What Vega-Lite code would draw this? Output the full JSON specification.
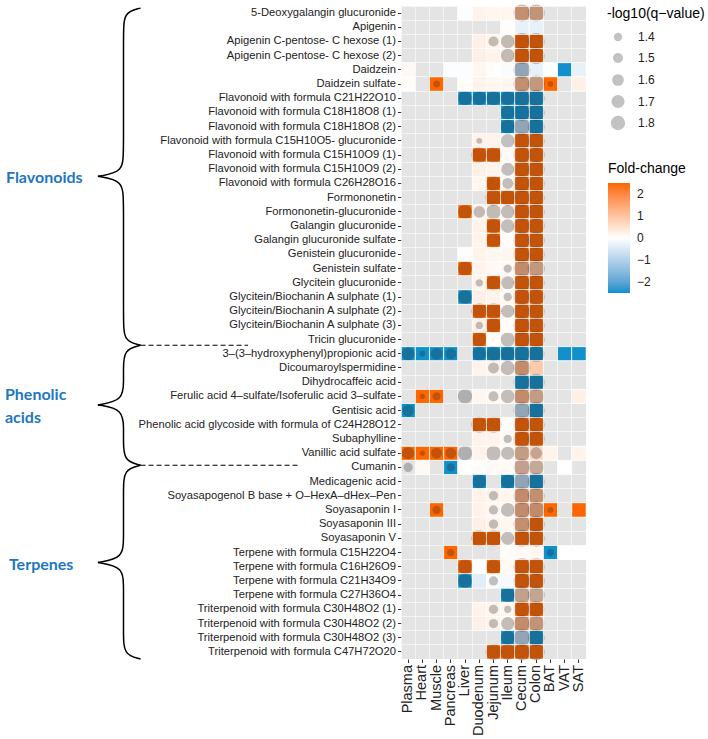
{
  "$schema": "https://vega.github.io/schema/vega-lite/v6.json",
  "width": 185,
  "height": 653,
  "padding": {"left": 4, "top": 4, "right": 5, "bottom": 5},
  "config": {
    "view": {"stroke": null, "fill": "#E4E4E4"},
    "font": "Liberation Sans",
    "axis": {"labelFont": "Liberation Sans"},
    "legend": {"titleFont": "Liberation Sans", "labelFont": "Liberation Sans", "titleFontWeight": "normal", "titleColor": "#000", "labelColor": "#222"}
  },
  "datasets": {
    "names": [
      {"r": 1, "n": "5-Deoxygalangin glucuronide"},
      {"r": 2, "n": "Apigenin"},
      {"r": 3, "n": "Apigenin C-pentose- C hexose (1)"},
      {"r": 4, "n": "Apigenin C-pentose- C hexose (2)"},
      {"r": 5, "n": "Daidzein"},
      {"r": 6, "n": "Daidzein sulfate"},
      {"r": 7, "n": "Flavonoid with formula C21H22O10"},
      {"r": 8, "n": "Flavonoid with formula C18H18O8 (1)"},
      {"r": 9, "n": "Flavonoid with formula C18H18O8 (2)"},
      {"r": 10, "n": "Flavonoid with formula C15H10O5- glucuronide"},
      {"r": 11, "n": "Flavonoid with formula C15H10O9 (1)"},
      {"r": 12, "n": "Flavonoid with formula C15H10O9 (2)"},
      {"r": 13, "n": "Flavonoid with formula C26H28O16"},
      {"r": 14, "n": "Formononetin"},
      {"r": 15, "n": "Formononetin-glucuronide"},
      {"r": 16, "n": "Galangin glucuronide"},
      {"r": 17, "n": "Galangin glucuronide sulfate"},
      {"r": 18, "n": "Genistein glucuronide"},
      {"r": 19, "n": "Genistein sulfate"},
      {"r": 20, "n": "Glycitein glucuronide"},
      {"r": 21, "n": "Glycitein/Biochanin A sulphate (1)"},
      {"r": 22, "n": "Glycitein/Biochanin A sulphate (2)"},
      {"r": 23, "n": "Glycitein/Biochanin A sulphate (3)"},
      {"r": 24, "n": "Tricin glucuronide"},
      {"r": 25, "n": "3–(3–hydroxyphenyl)propionic acid"},
      {"r": 26, "n": "Dicoumaroylspermidine"},
      {"r": 27, "n": "Dihydrocaffeic acid"},
      {"r": 28, "n": "Ferulic acid 4–sulfate/Isoferulic acid 3–sulfate"},
      {"r": 29, "n": "Gentisic acid"},
      {"r": 30, "n": "Phenolic acid glycoside with formula of C24H28O12"},
      {"r": 31, "n": "Subaphylline"},
      {"r": 32, "n": "Vanillic acid sulfate"},
      {"r": 33, "n": "Cumanin"},
      {"r": 34, "n": "Medicagenic acid"},
      {"r": 35, "n": "Soyasapogenol B base + O–HexA–dHex–Pen"},
      {"r": 36, "n": "Soyasaponin I"},
      {"r": 37, "n": "Soyasaponin III"},
      {"r": 38, "n": "Soyasaponin V"},
      {"r": 39, "n": "Terpene with formula C15H22O4"},
      {"r": 40, "n": "Terpene with formula C16H26O9"},
      {"r": 41, "n": "Terpene with formula C21H34O9"},
      {"r": 42, "n": "Terpene with formula C27H36O4"},
      {"r": 43, "n": "Triterpenoid with formula C30H48O2 (1)"},
      {"r": 44, "n": "Triterpenoid with formula C30H48O2 (2)"},
      {"r": 45, "n": "Triterpenoid with formula C30H48O2 (3)"},
      {"r": 46, "n": "Triterpenoid with formula C47H72O20"}
    ],
    "cells": [
      {"r":1,"t":"Liver","f":-0.05},{"r":1,"t":"Duodenum","f":0.2},{"r":1,"t":"Jejunum","f":0.15},{"r":1,"t":"Ileum","f":0.15},{"r":1,"t":"Cecum","f":1.2,"q":2.05},{"r":1,"t":"Colon","f":1.1,"q":2.05},
      {"r":2,"t":"Ileum","f":0.03},{"r":2,"t":"Cecum","f":-0.3},{"r":2,"t":"Colon","f":-0.3},
      {"r":3,"t":"Duodenum","f":0.25},{"r":3,"t":"Jejunum","f":0.2,"q":1.5},{"r":3,"t":"Ileum","f":0.2,"q":1.75},{"r":3,"t":"Cecum","f":2.5,"q":2.05},{"r":3,"t":"Colon","f":2.5,"q":2.05},
      {"r":4,"t":"Duodenum","f":0.25},{"r":4,"t":"Jejunum","f":0.2},{"r":4,"t":"Ileum","f":0.2,"q":1.75},{"r":4,"t":"Cecum","f":2.5,"q":2.05},{"r":4,"t":"Colon","f":2.5,"q":2.05},
      {"r":5,"t":"Plasma","f":0.1},{"r":5,"t":"Pancreas","f":-0.05},{"r":5,"t":"Liver","f":-0.05},{"r":5,"t":"Duodenum","f":0.15},{"r":5,"t":"Jejunum","f":0.02},{"r":5,"t":"Ileum","f":-0.08},{"r":5,"t":"Cecum","f":-0.9,"q":2.05},{"r":5,"t":"Colon","f":-0.3},{"r":5,"t":"BAT","f":0},{"r":5,"t":"VAT","f":-2.5},{"r":5,"t":"SAT","f":-0.3},
      {"r":6,"t":"Plasma","f":0.05},{"r":6,"t":"Muscle","f":2.5,"q":1.34},{"r":6,"t":"Liver","f":0.05},{"r":6,"t":"Duodenum","f":0.2},{"r":6,"t":"Jejunum","f":0.15},{"r":6,"t":"Ileum","f":0.15},{"r":6,"t":"Cecum","f":1.2,"q":2.05},{"r":6,"t":"Colon","f":1.0,"q":2.05},{"r":6,"t":"BAT","f":2.5,"q":1.29},{"r":6,"t":"SAT","f":0.25},
      {"r":7,"t":"Liver","f":-2.5,"q":1.78},{"r":7,"t":"Duodenum","f":-2.5,"q":1.78},{"r":7,"t":"Jejunum","f":-2.5,"q":1.8},{"r":7,"t":"Ileum","f":-2.5,"q":1.8},{"r":7,"t":"Cecum","f":-2.5,"q":2.05},{"r":7,"t":"Colon","f":-2.5,"q":2.05},
      {"r":8,"t":"Ileum","f":-2.5,"q":1.8},{"r":8,"t":"Cecum","f":-2.5,"q":2.05},{"r":8,"t":"Colon","f":-2.5,"q":2.05},
      {"r":9,"t":"Ileum","f":-2.5,"q":1.8},{"r":9,"t":"Cecum","f":-0.9,"q":2.05},{"r":9,"t":"Colon","f":-2.5,"q":2.05},
      {"r":10,"t":"Duodenum","f":0.2,"q":1.3},{"r":10,"t":"Jejunum","f":0.2},{"r":10,"t":"Ileum","f":0.05,"q":1.77},{"r":10,"t":"Cecum","f":2.5,"q":2.05},{"r":10,"t":"Colon","f":2.5,"q":2.05},
      {"r":11,"t":"Duodenum","f":2.5,"q":1.95},{"r":11,"t":"Jejunum","f":2.5,"q":1.95},{"r":11,"t":"Ileum","f":0.08},{"r":11,"t":"Cecum","f":2.5,"q":2.05},{"r":11,"t":"Colon","f":2.5,"q":2.05},
      {"r":12,"t":"Duodenum","f":0.25},{"r":12,"t":"Jejunum","f":0.2},{"r":12,"t":"Ileum","f":0.1,"q":1.7},{"r":12,"t":"Cecum","f":2.5,"q":2.05},{"r":12,"t":"Colon","f":2.5,"q":2.05},
      {"r":13,"t":"Duodenum","f":0.15},{"r":13,"t":"Jejunum","f":2.5,"q":1.85},{"r":13,"t":"Ileum","f":0.1,"q":1.55},{"r":13,"t":"Cecum","f":2.5,"q":2.05},{"r":13,"t":"Colon","f":2.5,"q":2.05},
      {"r":14,"t":"Jejunum","f":2.5,"q":1.95},{"r":14,"t":"Ileum","f":2.5,"q":1.95},{"r":14,"t":"Cecum","f":2.5,"q":2.05},{"r":14,"t":"Colon","f":2.5,"q":2.05},
      {"r":15,"t":"Liver","f":2.5,"q":1.8},{"r":15,"t":"Duodenum","f":0.2,"q":1.6},{"r":15,"t":"Jejunum","f":0.2,"q":1.85},{"r":15,"t":"Ileum","f":0.15,"q":1.75},{"r":15,"t":"Cecum","f":2.5,"q":2.05},{"r":15,"t":"Colon","f":2.5,"q":2.05},
      {"r":16,"t":"Duodenum","f":0.2},{"r":16,"t":"Jejunum","f":2.5,"q":1.85},{"r":16,"t":"Ileum","f":0.1,"q":1.75},{"r":16,"t":"Cecum","f":2.5,"q":2.05},{"r":16,"t":"Colon","f":2.5,"q":2.05},
      {"r":17,"t":"Duodenum","f":0.2},{"r":17,"t":"Jejunum","f":2.5,"q":1.85},{"r":17,"t":"Ileum","f":0.05},{"r":17,"t":"Cecum","f":2.5,"q":2.05},{"r":17,"t":"Colon","f":2.5,"q":2.05},
      {"r":18,"t":"Liver","f":0.05},{"r":18,"t":"Duodenum","f":0.2},{"r":18,"t":"Jejunum","f":0.15},{"r":18,"t":"Ileum","f":0.15},{"r":18,"t":"Cecum","f":2.5,"q":2.05},{"r":18,"t":"Colon","f":2.5,"q":2.05},
      {"r":19,"t":"Liver","f":2.5,"q":1.8},{"r":19,"t":"Duodenum","f":0.2},{"r":19,"t":"Jejunum","f":0.12},{"r":19,"t":"Ileum","f":0.1,"q":1.4},{"r":19,"t":"Cecum","f":1.3,"q":2.05},{"r":19,"t":"Colon","f":1.0,"q":2.08},
      {"r":20,"t":"Duodenum","f":0.2,"q":1.35},{"r":20,"t":"Jejunum","f":2.5,"q":1.85},{"r":20,"t":"Ileum","f":0.15,"q":1.7},{"r":20,"t":"Cecum","f":2.5,"q":2.05},{"r":20,"t":"Colon","f":2.5,"q":2.05},
      {"r":21,"t":"Liver","f":-2.5,"q":1.78},{"r":21,"t":"Duodenum","f":0.25},{"r":21,"t":"Jejunum","f":0.2},{"r":21,"t":"Ileum","f":0.12,"q":1.4},{"r":21,"t":"Cecum","f":2.5,"q":2.05},{"r":21,"t":"Colon","f":2.5,"q":2.05},
      {"r":22,"t":"Duodenum","f":2.5,"q":1.95},{"r":22,"t":"Jejunum","f":2.5,"q":1.95},{"r":22,"t":"Ileum","f":0.12,"q":1.7},{"r":22,"t":"Cecum","f":2.5,"q":2.05},{"r":22,"t":"Colon","f":2.5,"q":2.05},
      {"r":23,"t":"Duodenum","f":0.25,"q":1.35},{"r":23,"t":"Jejunum","f":2.5,"q":1.85},{"r":23,"t":"Ileum","f":0.05},{"r":23,"t":"Cecum","f":2.5,"q":2.05},{"r":23,"t":"Colon","f":2.5,"q":2.05},
      {"r":24,"t":"Duodenum","f":2.5,"q":1.85},{"r":24,"t":"Jejunum","f":0.05},{"r":24,"t":"Ileum","f":0.1,"q":1.8},{"r":24,"t":"Cecum","f":2.5,"q":2.05},{"r":24,"t":"Colon","f":2.5,"q":2.05},
      {"r":25,"t":"Plasma","f":-2.5,"q":1.7},{"r":25,"t":"Heart","f":-2.5,"q":1.3},{"r":25,"t":"Muscle","f":-2.5,"q":1.6},{"r":25,"t":"Pancreas","f":-2.5,"q":1.55},{"r":25,"t":"Duodenum","f":-2.5,"q":1.8},{"r":25,"t":"Jejunum","f":-2.5,"q":1.85},{"r":25,"t":"Ileum","f":-2.5,"q":1.85},{"r":25,"t":"Cecum","f":-2.5,"q":2.0},{"r":25,"t":"Colon","f":-2.5,"q":2.0},{"r":25,"t":"VAT","f":-2.5},{"r":25,"t":"SAT","f":-2.5},
      {"r":26,"t":"Duodenum","f":0.2},{"r":26,"t":"Jejunum","f":0.2,"q":1.55},{"r":26,"t":"Ileum","f":0.15,"q":1.8},{"r":26,"t":"Cecum","f":1.3,"q":2.05},{"r":26,"t":"Colon","f":0.9},
      {"r":27,"t":"Cecum","f":-2.5,"q":2.05},{"r":27,"t":"Colon","f":-2.5,"q":2.05},
      {"r":28,"t":"Heart","f":2.5,"q":1.28},{"r":28,"t":"Muscle","f":2.5,"q":1.4},{"r":28,"t":"Liver","f":null,"q":1.8},{"r":28,"t":"Duodenum","f":0.15},{"r":28,"t":"Jejunum","f":0.12,"q":1.5},{"r":28,"t":"Ileum","f":0.12,"q":1.75},{"r":28,"t":"Cecum","f":1.3,"q":2.0},{"r":28,"t":"Colon","f":0.9,"q":1.95},{"r":28,"t":"SAT","f":0.25},
      {"r":29,"t":"Plasma","f":-2.5,"q":1.6},{"r":29,"t":"Cecum","f":-0.9,"q":2.05},{"r":29,"t":"Colon","f":-2.5,"q":2.05},
      {"r":30,"t":"Duodenum","f":2.5,"q":1.95},{"r":30,"t":"Jejunum","f":2.5,"q":1.95},{"r":30,"t":"Ileum","f":0.05},{"r":30,"t":"Cecum","f":2.5,"q":2.05},{"r":30,"t":"Colon","f":2.5,"q":2.05},
      {"r":31,"t":"Duodenum","f":0.2},{"r":31,"t":"Jejunum","f":0.2},{"r":31,"t":"Ileum","f":0.1,"q":1.4},{"r":31,"t":"Cecum","f":2.5,"q":2.05},{"r":31,"t":"Colon","f":2.5,"q":2.05},
      {"r":32,"t":"Plasma","f":2.5,"q":1.65},{"r":32,"t":"Heart","f":2.5,"q":1.28},{"r":32,"t":"Muscle","f":2.5,"q":1.55},{"r":32,"t":"Pancreas","f":2.5,"q":1.55},{"r":32,"t":"Liver","f":null,"q":1.8},{"r":32,"t":"Duodenum","f":0.2},{"r":32,"t":"Jejunum","f":0.15,"q":1.85},{"r":32,"t":"Ileum","f":0.15,"q":1.7},{"r":32,"t":"Cecum","f":0.9,"q":1.95},{"r":32,"t":"Colon","f":0.7,"q":1.6},{"r":32,"t":"BAT","f":0.2},{"r":32,"t":"SAT","f":0.2},
      {"r":33,"t":"Plasma","f":null,"q":1.45},{"r":33,"t":"Heart","f":0.1},{"r":33,"t":"Pancreas","f":-2.5,"q":1.4},{"r":33,"t":"Liver","f":0},{"r":33,"t":"Duodenum","f":0.03},{"r":33,"t":"Jejunum","f":0.08},{"r":33,"t":"Ileum","f":0.08},{"r":33,"t":"Cecum","f":0.8,"q":2.0},{"r":33,"t":"Colon","f":0.6,"q":1.9},{"r":33,"t":"VAT","f":0},
      {"r":34,"t":"Duodenum","f":-2.5,"q":1.8},{"r":34,"t":"Ileum","f":-2.5,"q":1.8},{"r":34,"t":"Cecum","f":-0.9,"q":2.05},{"r":34,"t":"Colon","f":-2.5,"q":2.05},
      {"r":35,"t":"Duodenum","f":0.2},{"r":35,"t":"Jejunum","f":0.2,"q":1.45},{"r":35,"t":"Ileum","f":0.15},{"r":35,"t":"Cecum","f":1.3,"q":2.05},{"r":35,"t":"Colon","f":1.2,"q":2.05},
      {"r":36,"t":"Muscle","f":2.5,"q":1.4},{"r":36,"t":"Duodenum","f":0.2},{"r":36,"t":"Jejunum","f":0.15,"q":1.45},{"r":36,"t":"Ileum","f":0.12,"q":1.75},{"r":36,"t":"Cecum","f":1.3,"q":2.05},{"r":36,"t":"Colon","f":1.3,"q":2.05},{"r":36,"t":"BAT","f":2.5,"q":1.3},{"r":36,"t":"SAT","f":2.5},
      {"r":37,"t":"Duodenum","f":0.25},{"r":37,"t":"Jejunum","f":0.2,"q":1.45},{"r":37,"t":"Ileum","f":0.15},{"r":37,"t":"Cecum","f":1.2,"q":2.05},{"r":37,"t":"Colon","f":2.5,"q":2.05},
      {"r":38,"t":"Duodenum","f":2.5,"q":1.95},{"r":38,"t":"Jejunum","f":2.5,"q":1.95},{"r":38,"t":"Ileum","f":0.1,"q":1.7},{"r":38,"t":"Cecum","f":2.5,"q":2.05},{"r":38,"t":"Colon","f":2.5,"q":2.05},
      {"r":39,"t":"Pancreas","f":2.5,"q":1.35},{"r":39,"t":"Ileum","f":0.05},{"r":39,"t":"Cecum","f":0.1},{"r":39,"t":"Colon","f":0.15},{"r":39,"t":"BAT","f":-2.5,"q":1.35},{"r":39,"t":"VAT","f":0},{"r":39,"t":"SAT","f":0},
      {"r":40,"t":"Liver","f":2.5,"q":1.85},{"r":40,"t":"Duodenum","f":0},{"r":40,"t":"Jejunum","f":2.5,"q":1.85},{"r":40,"t":"Ileum","f":0.1},{"r":40,"t":"Cecum","f":2.5,"q":2.05},{"r":40,"t":"Colon","f":2.5,"q":2.05},
      {"r":41,"t":"Liver","f":-2.5,"q":1.8},{"r":41,"t":"Duodenum","f":-0.4},{"r":41,"t":"Jejunum","f":-0.08,"q":1.45},{"r":41,"t":"Ileum","f":-0.12},{"r":41,"t":"Cecum","f":2.5,"q":2.05},{"r":41,"t":"Colon","f":2.5,"q":2.05},
      {"r":42,"t":"Ileum","f":-2.5,"q":1.8},{"r":42,"t":"Cecum","f":0.8,"q":2.05},{"r":42,"t":"Colon","f":0.7,"q":2.05},
      {"r":43,"t":"Duodenum","f":0.2},{"r":43,"t":"Jejunum","f":0.2,"q":1.45},{"r":43,"t":"Ileum","f":0.15,"q":1.35},{"r":43,"t":"Cecum","f":2.5,"q":1.98},{"r":43,"t":"Colon","f":2.5,"q":1.98},
      {"r":44,"t":"Duodenum","f":0.25},{"r":44,"t":"Jejunum","f":0.2,"q":1.45},{"r":44,"t":"Ileum","f":0.15,"q":1.7},{"r":44,"t":"Cecum","f":1.3,"q":2.05},{"r":44,"t":"Colon","f":1.1,"q":1.98},
      {"r":45,"t":"Ileum","f":-2.5,"q":1.8},{"r":45,"t":"Cecum","f":-0.9,"q":2.05},{"r":45,"t":"Colon","f":-2.5,"q":2.05},
      {"r":46,"t":"Jejunum","f":2.5,"q":1.95},{"r":46,"t":"Ileum","f":2.5,"q":1.95},{"r":46,"t":"Cecum","f":2.5,"q":2.05},{"r":46,"t":"Colon","f":2.5,"q":2.05}
    ],
    "brace": [
      {"g":"Fa","o":0,"bx":-18.3,"by":0.15},{"g":"Fa","o":1,"bx":-19.5,"by":0.45},{"g":"Fa","o":2,"bx":-19.5,"by":1.95},{"g":"Fa","o":3,"bx":-19.5,"by":10.2},{"g":"Fa","o":4,"bx":-19.5,"by":11.7},{"g":"Fa","o":5,"bx":-21.3,"by":12.0},
      {"g":"Fb","o":0,"bx":-21.3,"by":12.0},{"g":"Fb","o":1,"bx":-19.5,"by":12.3},{"g":"Fb","o":2,"bx":-19.5,"by":13.8},{"g":"Fb","o":3,"bx":-19.5,"by":22.1},{"g":"Fb","o":4,"bx":-19.5,"by":23.6},{"g":"Fb","o":5,"bx":-18.3,"by":23.9},
      {"g":"Pa","o":0,"bx":-18.3,"by":23.9},{"g":"Pa","o":1,"bx":-19.5,"by":24.2},{"g":"Pa","o":2,"bx":-19.5,"by":25.7},{"g":"Pa","o":3,"bx":-19.5,"by":26.3},{"g":"Pa","o":4,"bx":-19.5,"by":27.8},{"g":"Pa","o":5,"bx":-21.3,"by":28.1},
      {"g":"Pb","o":0,"bx":-21.3,"by":28.1},{"g":"Pb","o":1,"bx":-19.5,"by":28.4},{"g":"Pb","o":2,"bx":-19.5,"by":29.9},{"g":"Pb","o":3,"bx":-19.5,"by":30.5},{"g":"Pb","o":4,"bx":-19.5,"by":32.05},{"g":"Pb","o":5,"bx":-18.3,"by":32.35},
      {"g":"Ta","o":0,"bx":-18.3,"by":32.35},{"g":"Ta","o":1,"bx":-19.5,"by":32.65},{"g":"Ta","o":2,"bx":-19.5,"by":34.15},{"g":"Ta","o":3,"bx":-19.5,"by":37.4},{"g":"Ta","o":4,"bx":-19.5,"by":38.9},{"g":"Ta","o":5,"bx":-21.3,"by":39.2},
      {"g":"Tb","o":0,"bx":-21.3,"by":39.2},{"g":"Tb","o":1,"bx":-19.5,"by":39.5},{"g":"Tb","o":2,"bx":-19.5,"by":41.0},{"g":"Tb","o":3,"bx":-19.5,"by":44.2},{"g":"Tb","o":4,"bx":-19.5,"by":45.7},{"g":"Tb","o":5,"bx":-18.3,"by":46.0}
    ],
    "dashes": [
      {"x1": -18.3, "x2": -10.75, "y": 23.9},
      {"x1": -18.3, "x2": -7.24, "y": 32.35}
    ],
    "groups": [
      {"label": "Flavonoids", "x": -27.76, "y": 12.1},
      {"label": "Phenolic\nacids", "x": -27.83, "y": 27.4},
      {"label": "Terpenes", "x": -27.55, "y": 39.35}
    ]
  },
  "resolve": {"scale": {"x": "independent", "y": "independent"}, "axis": {"x": "independent", "y": "independent"}},
  "layer": [
    {
      "data": {"name": "cells"},
      "transform": [
        {"lookup": "r", "from": {"data": {"name": "names"}, "key": "r", "fields": ["n"]}},
        {"filter": "datum.f != null"}
      ],
      "mark": {"type": "rect", "stroke": "#FFFFFF", "strokeWidth": 0.5},
      "encoding": {
        "x": {"field": "t", "type": "nominal",
          "scale": {"type": "band", "paddingInner": 0, "paddingOuter": 0, "domain": ["Plasma","Heart","Muscle","Pancreas","Liver","Duodenum","Jejunum","Ileum","Cecum","Colon","BAT","VAT","SAT"]},
          "axis": {"orient": "bottom", "title": null, "labels": false, "ticks": false, "domain": false, "grid": true, "bandPosition": 0, "gridColor": "#FFFFFF", "gridWidth": 0.6}},
        "y": {"field": "n", "type": "nominal",
          "scale": {"type": "band", "paddingInner": 0, "paddingOuter": 0, "domain": ["5-Deoxygalangin glucuronide","Apigenin","Apigenin C-pentose- C hexose (1)","Apigenin C-pentose- C hexose (2)","Daidzein","Daidzein sulfate","Flavonoid with formula C21H22O10","Flavonoid with formula C18H18O8 (1)","Flavonoid with formula C18H18O8 (2)","Flavonoid with formula C15H10O5- glucuronide","Flavonoid with formula C15H10O9 (1)","Flavonoid with formula C15H10O9 (2)","Flavonoid with formula C26H28O16","Formononetin","Formononetin-glucuronide","Galangin glucuronide","Galangin glucuronide sulfate","Genistein glucuronide","Genistein sulfate","Glycitein glucuronide","Glycitein/Biochanin A sulphate (1)","Glycitein/Biochanin A sulphate (2)","Glycitein/Biochanin A sulphate (3)","Tricin glucuronide","3–(3–hydroxyphenyl)propionic acid","Dicoumaroylspermidine","Dihydrocaffeic acid","Ferulic acid 4–sulfate/Isoferulic acid 3–sulfate","Gentisic acid","Phenolic acid glycoside with formula of C24H28O12","Subaphylline","Vanillic acid sulfate","Cumanin","Medicagenic acid","Soyasapogenol B base + O–HexA–dHex–Pen","Soyasaponin I","Soyasaponin III","Soyasaponin V","Terpene with formula C15H22O4","Terpene with formula C16H26O9","Terpene with formula C21H34O9","Terpene with formula C27H36O4","Triterpenoid with formula C30H48O2 (1)","Triterpenoid with formula C30H48O2 (2)","Triterpenoid with formula C30H48O2 (3)","Triterpenoid with formula C47H72O20"]},
          "axis": {"orient": "left", "title": null, "labels": false, "ticks": false, "domain": false, "grid": true, "bandPosition": 0, "gridColor": "#FFFFFF", "gridWidth": 0.6}},
        "fill": {"field": "f", "type": "quantitative",
          "scale": {"domain": [-2.5, 0, 2.5], "range": ["#1290CB", "#FFFFFF", "#FF6600"], "interpolate": "lab"},
          "legend": {"title": "Fold-change", "orient": "none", "legendX": 207, "legendY": 156, "direction": "vertical", "values": [-2, -1, 0, 1, 2], "gradientLength": 110, "gradientThickness": 22, "gradientStrokeWidth": 0, "titleFontSize": 14, "labelFontSize": 12, "titlePadding": 7, "labelOffset": 7}}
      }
    },
    {
      "data": {"name": "cells"},
      "transform": [
        {"lookup": "r", "from": {"data": {"name": "names"}, "key": "r", "fields": ["n"]}},
        {"filter": "datum.q != null"}
      ],
      "mark": {"type": "circle", "color": "#222222", "opacity": 0.27},
      "encoding": {
        "x": {"field": "t", "type": "nominal",
          "scale": {"type": "band", "paddingInner": 0, "paddingOuter": 0, "domain": ["Plasma","Heart","Muscle","Pancreas","Liver","Duodenum","Jejunum","Ileum","Cecum","Colon","BAT","VAT","SAT"]},
          "axis": {"orient": "bottom", "title": null, "grid": false, "domain": false, "labelAngle": -90, "labelFontSize": 14.5, "labelColor": "#222222", "tickColor": "#333333", "tickSize": 3.5, "labelPadding": 2}},
        "y": {"field": "n", "type": "nominal",
          "scale": {"type": "band", "paddingInner": 0, "paddingOuter": 0, "domain": ["5-Deoxygalangin glucuronide","Apigenin","Apigenin C-pentose- C hexose (1)","Apigenin C-pentose- C hexose (2)","Daidzein","Daidzein sulfate","Flavonoid with formula C21H22O10","Flavonoid with formula C18H18O8 (1)","Flavonoid with formula C18H18O8 (2)","Flavonoid with formula C15H10O5- glucuronide","Flavonoid with formula C15H10O9 (1)","Flavonoid with formula C15H10O9 (2)","Flavonoid with formula C26H28O16","Formononetin","Formononetin-glucuronide","Galangin glucuronide","Galangin glucuronide sulfate","Genistein glucuronide","Genistein sulfate","Glycitein glucuronide","Glycitein/Biochanin A sulphate (1)","Glycitein/Biochanin A sulphate (2)","Glycitein/Biochanin A sulphate (3)","Tricin glucuronide","3–(3–hydroxyphenyl)propionic acid","Dicoumaroylspermidine","Dihydrocaffeic acid","Ferulic acid 4–sulfate/Isoferulic acid 3–sulfate","Gentisic acid","Phenolic acid glycoside with formula of C24H28O12","Subaphylline","Vanillic acid sulfate","Cumanin","Medicagenic acid","Soyasapogenol B base + O–HexA–dHex–Pen","Soyasaponin I","Soyasaponin III","Soyasaponin V","Terpene with formula C15H22O4","Terpene with formula C16H26O9","Terpene with formula C21H34O9","Terpene with formula C27H36O4","Triterpenoid with formula C30H48O2 (1)","Triterpenoid with formula C30H48O2 (2)","Triterpenoid with formula C30H48O2 (3)","Triterpenoid with formula C47H72O20"]},
          "axis": {"orient": "left", "title": null, "grid": false, "domain": false, "labelFontSize": 11.2, "labelColor": "#222222", "tickColor": "#333333", "tickSize": 3.5, "labelPadding": 2, "labelLimit": 400}},
        "size": {"field": "q", "type": "quantitative",
          "scale": {"domain": [1.25, 2.1], "range": [18, 306]},
          "legend": {"title": "-log10(q−value)", "orient": "none", "legendX": 206, "legendY": 1, "values": [1.4, 1.5, 1.6, 1.7, 1.8], "titleFontSize": 14, "labelFontSize": 12, "titlePadding": 10, "rowPadding": -1, "gridAlign": "all", "symbolOffset": 3, "labelOffset": 12}}
      }
    },
    {
      "data": {"name": "brace"},
      "mark": {"type": "line", "interpolate": "basis", "color": "#000000", "strokeWidth": 1.5},
      "encoding": {
        "x": {"field": "bx", "type": "quantitative", "scale": {"domain": [0, 13], "nice": false, "zero": false}, "axis": null},
        "y": {"field": "by", "type": "quantitative", "scale": {"domain": [0, 46], "nice": false, "zero": false, "reverse": true}, "axis": null},
        "detail": {"field": "g"},
        "order": {"field": "o", "type": "quantitative"}
      }
    },
    {
      "data": {"name": "dashes"},
      "mark": {"type": "rule", "color": "#000000", "strokeWidth": 1.1, "strokeDash": [5, 3]},
      "encoding": {
        "x": {"field": "x1", "type": "quantitative", "scale": {"domain": [0, 13], "nice": false, "zero": false}, "axis": null},
        "x2": {"field": "x2"},
        "y": {"field": "y", "type": "quantitative", "scale": {"domain": [0, 46], "nice": false, "zero": false, "reverse": true}, "axis": null}
      }
    },
    {
      "data": {"name": "groups"},
      "mark": {"type": "text", "align": "left", "baseline": "middle", "font": "Lato", "fontWeight": "bold", "fontSize": 16, "color": "#1F77C0", "lineBreak": "\n", "lineHeight": 23},
      "encoding": {
        "x": {"field": "x", "type": "quantitative", "scale": {"domain": [0, 13], "nice": false, "zero": false}, "axis": null},
        "y": {"field": "y", "type": "quantitative", "scale": {"domain": [0, 46], "nice": false, "zero": false, "reverse": true}, "axis": null},
        "text": {"field": "label"}
      }
    }
  ]
}
